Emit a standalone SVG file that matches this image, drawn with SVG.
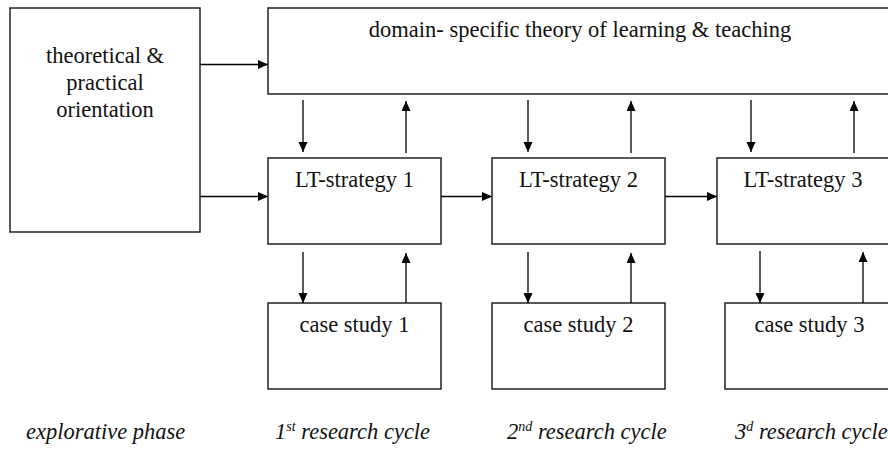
<svg xmlns="http://www.w3.org/2000/svg" width="888" height="467" viewBox="0 0 888 467">
<defs>
<marker id="ah" markerUnits="userSpaceOnUse" markerWidth="11" markerHeight="10" refX="10" refY="4.5" orient="auto">
<path d="M0,0 L10,4.5 L0,9 z" fill="#000"/>
</marker>
<style>
.box{fill:#fff;stroke:#222;stroke-width:1.5}
.t{font-family:"Liberation Serif","Times New Roman",serif;font-size:22.5px;fill:#111;text-anchor:middle}
.lab{font-family:"Liberation Serif","Times New Roman",serif;font-size:22.5px;font-style:italic;fill:#111}
.c{stroke:#000;stroke-width:1.3;fill:none;marker-end:url(#ah)}
</style>
</defs>
<rect width="888" height="467" fill="#fff"/>
<g id="orientation">
<rect class="box" x="10" y="8" width="190" height="224"/>
<text class="t" x="105" y="63">theoretical &amp;</text>
<text class="t" x="105" y="90">practical</text>
<text class="t" x="105" y="117">orientation</text>
</g>
<g id="theory">
<rect class="box" x="268" y="8" width="624" height="86"/>
<text class="t" x="580" y="37">domain- specific theory of learning &amp; teaching</text>
</g>
<g id="lt1">
<rect class="box" x="268" y="158" width="173" height="86"/>
<text class="t" x="354.5" y="187">LT-strategy 1</text>
</g>
<g id="lt2">
<rect class="box" x="492" y="158" width="173" height="86"/>
<text class="t" x="578.5" y="187">LT-strategy 2</text>
</g>
<g id="lt3">
<rect class="box" x="717" y="158" width="173" height="86"/>
<text class="t" x="803" y="187">LT-strategy 3</text>
</g>
<g id="case1">
<rect class="box" x="268" y="303" width="173" height="86"/>
<text class="t" x="354.5" y="332">case study 1</text>
</g>
<g id="case2">
<rect class="box" x="492" y="303" width="173" height="86"/>
<text class="t" x="578.5" y="332">case study 2</text>
</g>
<g id="case3">
<rect class="box" x="725" y="303" width="169" height="86"/>
<text class="t" x="809.5" y="332">case study 3</text>
</g>
<g id="connectors">
<line class="c" x1="200" y1="64.5" x2="268" y2="64.5"/>
<line class="c" x1="200" y1="196.5" x2="268" y2="196.5"/>
<line class="c" x1="441" y1="196.5" x2="492" y2="196.5"/>
<line class="c" x1="665" y1="196.5" x2="717" y2="196.5"/>
<line class="c" x1="303" y1="100" x2="303" y2="152"/>
<line class="c" x1="406" y1="153" x2="406" y2="101"/>
<line class="c" x1="528" y1="100" x2="528" y2="152"/>
<line class="c" x1="631" y1="153" x2="631" y2="101"/>
<line class="c" x1="751" y1="100" x2="751" y2="152"/>
<line class="c" x1="854" y1="153" x2="854" y2="101"/>
<line class="c" x1="303" y1="252" x2="303" y2="303"/>
<line class="c" x1="406" y1="303" x2="406" y2="253"/>
<line class="c" x1="528" y1="252" x2="528" y2="303"/>
<line class="c" x1="631" y1="303" x2="631" y2="253"/>
<line class="c" x1="760" y1="251" x2="760" y2="303"/>
<line class="c" x1="863" y1="303" x2="863" y2="252"/>
</g>
<g id="labels">
<text class="lab" x="26" y="439">explorative phase</text>
<text class="lab" x="275" y="439">1<tspan dy="-8" font-size="14">st</tspan><tspan dy="8"> research cycle</tspan></text>
<text class="lab" x="507" y="439">2<tspan dy="-8" font-size="14">nd</tspan><tspan dy="8"> research cycle</tspan></text>
<text class="lab" x="735" y="439">3<tspan dy="-8" font-size="14">d</tspan><tspan dy="8"> research cycle</tspan></text>
</g>
</svg>
